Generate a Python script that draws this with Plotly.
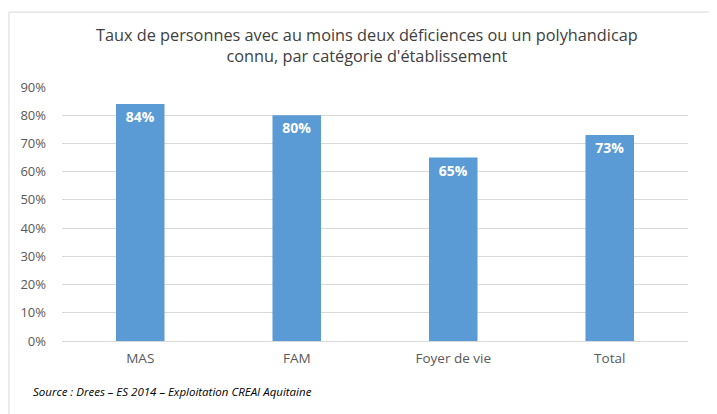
import plotly.graph_objects as go

categories = ["MAS", "FAM", "Foyer de vie", "Total"]
values = [0.84, 0.80, 0.65, 0.73]
value_labels = ["84%", "80%", "65%", "73%"]
y_tick_vals = [0, 0.1, 0.2, 0.3, 0.4, 0.5, 0.6, 0.7, 0.8, 0.9]
y_tick_text = ["0%", "10%", "20%", "30%", "40%", "50%", "60%", "70%", "80%", "90%"]
title_text = "Taux de personnes avec au moins deux déficiences ou un polyhandicap<br>connu, par catégorie d'établissement"
source_text = "Source : Drees – ES 2014 – Exploitation CREAI Aquitaine"

FONT = "Open Sans"

fig = go.Figure()
fig.add_trace(go.Bar(
    x=categories,
    y=values,
    text=value_labels,
    textposition="inside",
    insidetextanchor="end",
    textfont=dict(family=FONT, size=14, color="white", weight="bold"),
    marker=dict(color="#5b9bd5", line=dict(width=0)),
    width=0.31,
    hoverinfo="skip",
))

fig.update_layout(
    width=717,
    height=414,
    margin=dict(l=54, r=37, t=79, b=81),
    paper_bgcolor="white",
    plot_bgcolor="white",
    showlegend=False,
    font=dict(family=FONT, color="#595959"),
    title=dict(
        text=title_text,
        x=0.487, xref="paper", xanchor="center",
        y=0.921, yref="container", yanchor="middle",
        font=dict(family=FONT, size=16.3, color="#404040"),
    ),
    xaxis=dict(
        showgrid=False,
        showline=False,
        ticks="",
        ticklabelstandoff=7,
        tickfont=dict(family=FONT, size=13.5, color="#595959"),
    ),
    yaxis=dict(
        range=[0, 0.9],
        tickvals=y_tick_vals,
        ticktext=y_tick_text,
        showgrid=True,
        gridcolor="#d9d9d9",
        gridwidth=1,
        zeroline=True,
        zerolinecolor="#d9d9d9",
        zerolinewidth=1,
        showline=False,
        ticks="",
        ticklabelstandoff=15,
        tickfont=dict(family=FONT, size=13, color="#595959"),
    ),
    annotations=[
        dict(
            text="<i>" + source_text + "</i>",
            xref="paper", yref="paper",
            x=-0.0495, y=-0.197,
            xanchor="left", yanchor="middle",
            showarrow=False,
            font=dict(family=FONT, size=11.5, color="#000000"),
        )
    ],
    shapes=[
        dict(type="line", xref="paper", yref="paper",
             x0=-0.0847, x1=1.08, y0=1.295, y1=1.295,
             line=dict(color="#d9d9d9", width=1)),
        dict(type="line", xref="paper", yref="paper",
             x0=-0.0847, x1=-0.0847, y0=1.295, y1=-0.35,
             line=dict(color="#d9d9d9", width=1)),
    ],
)

fig.write_html("out.html")
